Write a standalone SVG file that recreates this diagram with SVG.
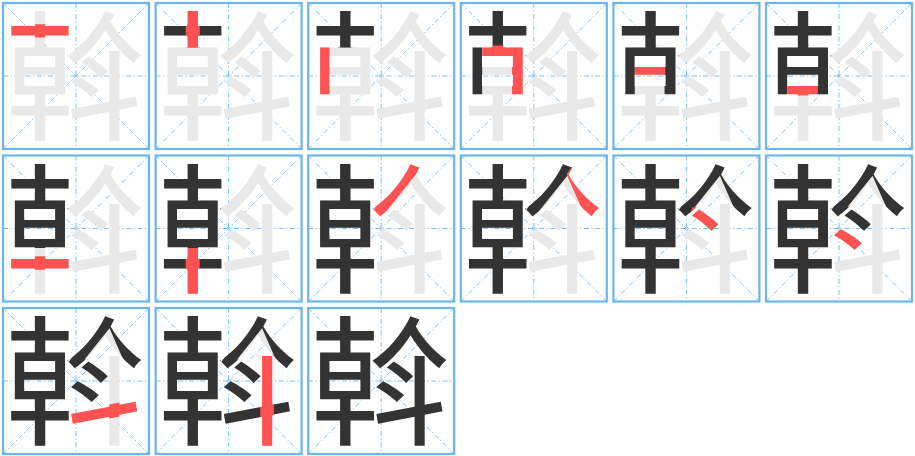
<svg xmlns="http://www.w3.org/2000/svg" width="915" height="456" viewBox="0 0 915 456">
<style>
.box{fill:none;stroke:#6cb6f0;stroke-width:2.2}
.guide{fill:none;stroke:#7cc0f2;stroke-width:1;stroke-dasharray:5,2.5,1.2,2.5}
.ch{font-family:'Noto Sans CJK SC','Noto Sans CJK TC',sans-serif;font-size:400px}
.bg{fill:#e9e9e9}
.dk{fill:#333333}
.rd{fill:#ff5252}
</style>
<defs>
<g id="strokes">
<rect id="p1" x="30" y="76" width="175" height="38"/>
<rect id="p2" x="98" y="34" width="40" height="109"/>
<rect id="p3" x="40" y="138" width="33" height="144"/>
<polygon id="p4" points="73,136 198,136 198,282 158,282 158,168 73,168"/>
<rect id="p5" x="73" y="192" width="87" height="36"/>
<rect id="p6" x="73" y="244" width="87" height="36"/>
<rect id="p7" x="30" y="303" width="175" height="39"/>
<rect id="p8" x="98" y="280" width="40" height="132"/>
<polygon id="p9" points="294,32 334,38 330,56 226,186 222,196 186,190"/>
<polygon id="p10" points="314,68 332,44 418,150 414,196 370,196"/>
<polygon id="p11" points="238,164 266,158 312,210 300,236 230,186"/>
<polygon id="p12" points="198,228 218,214 294,264 272,292 196,248"/>
<polygon id="p13" points="198,314 392,276 402,314 204,354"/>
<rect id="p14" x="311" y="148" width="39" height="264"/>
</g>
<clipPath id="r1" clipPathUnits="userSpaceOnUse"><use href="#p1"/></clipPath>
<clipPath id="r2" clipPathUnits="userSpaceOnUse"><use href="#p2"/></clipPath>
<clipPath id="r3" clipPathUnits="userSpaceOnUse"><use href="#p3"/></clipPath>
<clipPath id="r4" clipPathUnits="userSpaceOnUse"><use href="#p4"/></clipPath>
<clipPath id="r5" clipPathUnits="userSpaceOnUse"><use href="#p5"/></clipPath>
<clipPath id="r6" clipPathUnits="userSpaceOnUse"><use href="#p6"/></clipPath>
<clipPath id="r7" clipPathUnits="userSpaceOnUse"><use href="#p7"/></clipPath>
<clipPath id="r8" clipPathUnits="userSpaceOnUse"><use href="#p8"/></clipPath>
<clipPath id="r9" clipPathUnits="userSpaceOnUse"><use href="#p9"/></clipPath>
<clipPath id="r10" clipPathUnits="userSpaceOnUse"><use href="#p10"/></clipPath>
<clipPath id="r11" clipPathUnits="userSpaceOnUse"><use href="#p11"/></clipPath>
<clipPath id="r12" clipPathUnits="userSpaceOnUse"><use href="#p12"/></clipPath>
<clipPath id="r13" clipPathUnits="userSpaceOnUse"><use href="#p13"/></clipPath>
<clipPath id="r14" clipPathUnits="userSpaceOnUse"><use href="#p14"/></clipPath>
<clipPath id="u2" clipPathUnits="userSpaceOnUse"><use href="#p1"/></clipPath>
<clipPath id="u3" clipPathUnits="userSpaceOnUse"><use href="#p1"/><use href="#p2"/></clipPath>
<clipPath id="u4" clipPathUnits="userSpaceOnUse"><use href="#p1"/><use href="#p2"/><use href="#p3"/></clipPath>
<clipPath id="u5" clipPathUnits="userSpaceOnUse"><use href="#p1"/><use href="#p2"/><use href="#p3"/><use href="#p4"/></clipPath>
<clipPath id="u6" clipPathUnits="userSpaceOnUse"><use href="#p1"/><use href="#p2"/><use href="#p3"/><use href="#p4"/><use href="#p5"/></clipPath>
<clipPath id="u7" clipPathUnits="userSpaceOnUse"><use href="#p1"/><use href="#p2"/><use href="#p3"/><use href="#p4"/><use href="#p5"/><use href="#p6"/></clipPath>
<clipPath id="u8" clipPathUnits="userSpaceOnUse"><use href="#p1"/><use href="#p2"/><use href="#p3"/><use href="#p4"/><use href="#p5"/><use href="#p6"/><use href="#p7"/></clipPath>
<clipPath id="u9" clipPathUnits="userSpaceOnUse"><use href="#p1"/><use href="#p2"/><use href="#p3"/><use href="#p4"/><use href="#p5"/><use href="#p6"/><use href="#p7"/><use href="#p8"/></clipPath>
<clipPath id="u10" clipPathUnits="userSpaceOnUse"><use href="#p1"/><use href="#p2"/><use href="#p3"/><use href="#p4"/><use href="#p5"/><use href="#p6"/><use href="#p7"/><use href="#p8"/><use href="#p9"/></clipPath>
<clipPath id="u11" clipPathUnits="userSpaceOnUse"><use href="#p1"/><use href="#p2"/><use href="#p3"/><use href="#p4"/><use href="#p5"/><use href="#p6"/><use href="#p7"/><use href="#p8"/><use href="#p9"/><use href="#p10"/></clipPath>
<clipPath id="u12" clipPathUnits="userSpaceOnUse"><use href="#p1"/><use href="#p2"/><use href="#p3"/><use href="#p4"/><use href="#p5"/><use href="#p6"/><use href="#p7"/><use href="#p8"/><use href="#p9"/><use href="#p10"/><use href="#p11"/></clipPath>
<clipPath id="u13" clipPathUnits="userSpaceOnUse"><use href="#p1"/><use href="#p2"/><use href="#p3"/><use href="#p4"/><use href="#p5"/><use href="#p6"/><use href="#p7"/><use href="#p8"/><use href="#p9"/><use href="#p10"/><use href="#p11"/><use href="#p12"/></clipPath>
<clipPath id="u14" clipPathUnits="userSpaceOnUse"><use href="#p1"/><use href="#p2"/><use href="#p3"/><use href="#p4"/><use href="#p5"/><use href="#p6"/><use href="#p7"/><use href="#p8"/><use href="#p9"/><use href="#p10"/><use href="#p11"/><use href="#p12"/><use href="#p13"/></clipPath>
</defs>
<rect width="915" height="456" fill="#ffffff"/>

<g id="cell-1" transform="translate(3,3)">
<path class="guide" d="M73 0V146M0 73H146M0 0L146 146M146 0L0 146"/>
<g transform="translate(73,73) scale(0.35) translate(-220.5,-224)">
<text class="ch bg" x="220" y="376" text-anchor="middle">斡</text>
<text class="ch rd" x="220" y="376" text-anchor="middle" clip-path="url(#r1)">斡</text>
</g>
<rect class="box" x="0" y="0" width="146" height="146"/>
</g>

<g id="cell-2" transform="translate(155.6,3)">
<path class="guide" d="M73 0V146M0 73H146M0 0L146 146M146 0L0 146"/>
<g transform="translate(73,73) scale(0.35) translate(-220.5,-224)">
<text class="ch bg" x="220" y="376" text-anchor="middle">斡</text>
<text class="ch dk" x="220" y="376" text-anchor="middle" clip-path="url(#u2)">斡</text>
<text class="ch rd" x="220" y="376" text-anchor="middle" clip-path="url(#r2)">斡</text>
</g>
<rect class="box" x="0" y="0" width="146" height="146"/>
</g>

<g id="cell-3" transform="translate(308.2,3)">
<path class="guide" d="M73 0V146M0 73H146M0 0L146 146M146 0L0 146"/>
<g transform="translate(73,73) scale(0.35) translate(-220.5,-224)">
<text class="ch bg" x="220" y="376" text-anchor="middle">斡</text>
<text class="ch dk" x="220" y="376" text-anchor="middle" clip-path="url(#u3)">斡</text>
<text class="ch rd" x="220" y="376" text-anchor="middle" clip-path="url(#r3)">斡</text>
</g>
<rect class="box" x="0" y="0" width="146" height="146"/>
</g>

<g id="cell-4" transform="translate(460.8,3)">
<path class="guide" d="M73 0V146M0 73H146M0 0L146 146M146 0L0 146"/>
<g transform="translate(73,73) scale(0.35) translate(-220.5,-224)">
<text class="ch bg" x="220" y="376" text-anchor="middle">斡</text>
<text class="ch dk" x="220" y="376" text-anchor="middle" clip-path="url(#u4)">斡</text>
<text class="ch rd" x="220" y="376" text-anchor="middle" clip-path="url(#r4)">斡</text>
</g>
<rect class="box" x="0" y="0" width="146" height="146"/>
</g>

<g id="cell-5" transform="translate(613.4,3)">
<path class="guide" d="M73 0V146M0 73H146M0 0L146 146M146 0L0 146"/>
<g transform="translate(73,73) scale(0.35) translate(-220.5,-224)">
<text class="ch bg" x="220" y="376" text-anchor="middle">斡</text>
<text class="ch dk" x="220" y="376" text-anchor="middle" clip-path="url(#u5)">斡</text>
<text class="ch rd" x="220" y="376" text-anchor="middle" clip-path="url(#r5)">斡</text>
</g>
<rect class="box" x="0" y="0" width="146" height="146"/>
</g>

<g id="cell-6" transform="translate(766,3)">
<path class="guide" d="M73 0V146M0 73H146M0 0L146 146M146 0L0 146"/>
<g transform="translate(73,73) scale(0.35) translate(-220.5,-224)">
<text class="ch bg" x="220" y="376" text-anchor="middle">斡</text>
<text class="ch dk" x="220" y="376" text-anchor="middle" clip-path="url(#u6)">斡</text>
<text class="ch rd" x="220" y="376" text-anchor="middle" clip-path="url(#r6)">斡</text>
</g>
<rect class="box" x="0" y="0" width="146" height="146"/>
</g>

<g id="cell-7" transform="translate(3,155.5)">
<path class="guide" d="M73 0V146M0 73H146M0 0L146 146M146 0L0 146"/>
<g transform="translate(73,73) scale(0.35) translate(-220.5,-224)">
<text class="ch bg" x="220" y="376" text-anchor="middle">斡</text>
<text class="ch dk" x="220" y="376" text-anchor="middle" clip-path="url(#u7)">斡</text>
<text class="ch rd" x="220" y="376" text-anchor="middle" clip-path="url(#r7)">斡</text>
</g>
<rect class="box" x="0" y="0" width="146" height="146"/>
</g>

<g id="cell-8" transform="translate(155.6,155.5)">
<path class="guide" d="M73 0V146M0 73H146M0 0L146 146M146 0L0 146"/>
<g transform="translate(73,73) scale(0.35) translate(-220.5,-224)">
<text class="ch bg" x="220" y="376" text-anchor="middle">斡</text>
<text class="ch dk" x="220" y="376" text-anchor="middle" clip-path="url(#u8)">斡</text>
<text class="ch rd" x="220" y="376" text-anchor="middle" clip-path="url(#r8)">斡</text>
</g>
<rect class="box" x="0" y="0" width="146" height="146"/>
</g>

<g id="cell-9" transform="translate(308.2,155.5)">
<path class="guide" d="M73 0V146M0 73H146M0 0L146 146M146 0L0 146"/>
<g transform="translate(73,73) scale(0.35) translate(-220.5,-224)">
<text class="ch bg" x="220" y="376" text-anchor="middle">斡</text>
<text class="ch dk" x="220" y="376" text-anchor="middle" clip-path="url(#u9)">斡</text>
<text class="ch rd" x="220" y="376" text-anchor="middle" clip-path="url(#r9)">斡</text>
</g>
<rect class="box" x="0" y="0" width="146" height="146"/>
</g>

<g id="cell-10" transform="translate(460.8,155.5)">
<path class="guide" d="M73 0V146M0 73H146M0 0L146 146M146 0L0 146"/>
<g transform="translate(73,73) scale(0.35) translate(-220.5,-224)">
<text class="ch bg" x="220" y="376" text-anchor="middle">斡</text>
<text class="ch dk" x="220" y="376" text-anchor="middle" clip-path="url(#u10)">斡</text>
<text class="ch rd" x="220" y="376" text-anchor="middle" clip-path="url(#r10)">斡</text>
</g>
<rect class="box" x="0" y="0" width="146" height="146"/>
</g>

<g id="cell-11" transform="translate(613.4,155.5)">
<path class="guide" d="M73 0V146M0 73H146M0 0L146 146M146 0L0 146"/>
<g transform="translate(73,73) scale(0.35) translate(-220.5,-224)">
<text class="ch bg" x="220" y="376" text-anchor="middle">斡</text>
<text class="ch dk" x="220" y="376" text-anchor="middle" clip-path="url(#u11)">斡</text>
<text class="ch rd" x="220" y="376" text-anchor="middle" clip-path="url(#r11)">斡</text>
</g>
<rect class="box" x="0" y="0" width="146" height="146"/>
</g>

<g id="cell-12" transform="translate(766,155.5)">
<path class="guide" d="M73 0V146M0 73H146M0 0L146 146M146 0L0 146"/>
<g transform="translate(73,73) scale(0.35) translate(-220.5,-224)">
<text class="ch bg" x="220" y="376" text-anchor="middle">斡</text>
<text class="ch dk" x="220" y="376" text-anchor="middle" clip-path="url(#u12)">斡</text>
<text class="ch rd" x="220" y="376" text-anchor="middle" clip-path="url(#r12)">斡</text>
</g>
<rect class="box" x="0" y="0" width="146" height="146"/>
</g>

<g id="cell-13" transform="translate(3,308)">
<path class="guide" d="M73 0V146M0 73H146M0 0L146 146M146 0L0 146"/>
<g transform="translate(73,73) scale(0.35) translate(-220.5,-224)">
<text class="ch bg" x="220" y="376" text-anchor="middle">斡</text>
<text class="ch dk" x="220" y="376" text-anchor="middle" clip-path="url(#u13)">斡</text>
<text class="ch rd" x="220" y="376" text-anchor="middle" clip-path="url(#r13)">斡</text>
</g>
<rect class="box" x="0" y="0" width="146" height="146"/>
</g>

<g id="cell-14" transform="translate(155.6,308)">
<path class="guide" d="M73 0V146M0 73H146M0 0L146 146M146 0L0 146"/>
<g transform="translate(73,73) scale(0.35) translate(-220.5,-224)">
<text class="ch bg" x="220" y="376" text-anchor="middle">斡</text>
<text class="ch dk" x="220" y="376" text-anchor="middle" clip-path="url(#u14)">斡</text>
<text class="ch rd" x="220" y="376" text-anchor="middle" clip-path="url(#r14)">斡</text>
</g>
<rect class="box" x="0" y="0" width="146" height="146"/>
</g>

<g id="cell-15" transform="translate(308.2,308)">
<path class="guide" d="M73 0V146M0 73H146M0 0L146 146M146 0L0 146"/>
<g transform="translate(73,73) scale(0.35) translate(-220.5,-224)">
<text class="ch dk" x="220" y="376" text-anchor="middle">斡</text>
</g>
<rect class="box" x="0" y="0" width="146" height="146"/>
</g>
</svg>
